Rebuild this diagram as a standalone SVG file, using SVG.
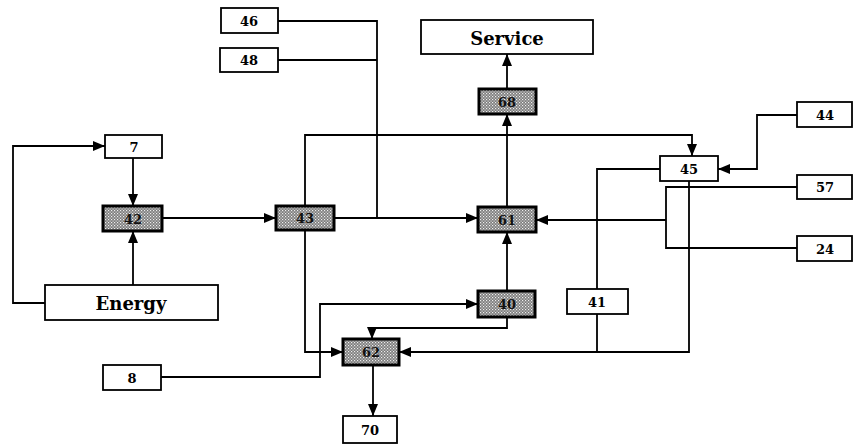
<svg xmlns="http://www.w3.org/2000/svg" width="853" height="445" viewBox="0 0 853 445">
<defs>
<pattern id="stip" width="3" height="3" patternUnits="userSpaceOnUse">
<rect width="3" height="3" fill="#7c7c7c"/>
<rect x="0" y="0" width="1.2" height="1.2" fill="#eeeeee"/>
<rect x="1.5" y="1.5" width="1.2" height="1.2" fill="#dddddd"/>
</pattern>
<marker id="ah" viewBox="0 0 12 10" refX="12" refY="5" markerWidth="12" markerHeight="10" markerUnits="userSpaceOnUse" orient="auto">
<path d="M0,0 L12,5 L0,10 z" fill="#000"/>
</marker>
</defs>
<style>
.box{fill:#fff;stroke:#000;stroke-width:1.8}
.dark{fill:url(#stip);stroke:#000;stroke-width:3}
.t{font-family:"DejaVu Serif","Liberation Serif",serif;font-weight:bold;font-size:13px;text-anchor:middle;dominant-baseline:central;fill:#000}
.big{font-size:18px}
.dt{fill:#111}
.c{fill:none;stroke:#000;stroke-width:1.8}
.a{marker-end:url(#ah)}
</style>
<rect width="853" height="445" fill="#fff"/>
<g id="connectors">
<path class="c a" d="M45,303 H13 V146 H105"/>
<path class="c a" d="M133,158 V206"/>
<path class="c a" d="M133,285 V231"/>
<path class="c a" d="M162,218 H276"/>
<path class="c a" d="M334,218 H478"/>
<path class="c" d="M278,21 H377 V218"/>
<path class="c" d="M278,60 H377"/>
<path class="c a" d="M305,206 V135 H692 V156"/>
<path class="c a" d="M305,230 V352 H343"/>
<path class="c a" d="M507,207 V114"/>
<path class="c a" d="M507,89 V54"/>
<path class="c a" d="M507,291 V232"/>
<path class="c a" d="M797,115 H757 V169 H718"/>
<path class="c" d="M797,187 H666 V248 H797"/>
<path class="c a" d="M666,220 H536"/>
<path class="c" d="M660,169 H597 V352"/>
<path class="c a" d="M689,181 V352 H399"/>
<path class="c a" d="M507,317 V328 H372 V339"/>
<path class="c a" d="M161,377 H320 V304 H478"/>
<path class="c a" d="M373,365 V416"/>
</g>
<g id="n7"><rect class="box" x="105" y="135" width="57" height="23"/><text class="t" x="134" y="147">7</text></g>
<g id="n42"><rect class="dark" x="103" y="206" width="59" height="25"/><text class="t dt" x="133" y="219">42</text></g>
<g id="nEnergy"><rect class="box" x="45" y="285" width="173" height="35"/><text class="t big" x="131" y="303">Energy</text></g>
<g id="n46"><rect class="box" x="221" y="8" width="57" height="25"/><text class="t" x="249" y="21">46</text></g>
<g id="n48"><rect class="box" x="220" y="48" width="58" height="24"/><text class="t" x="249" y="60">48</text></g>
<g id="n43"><rect class="dark" x="276" y="206" width="58" height="24"/><text class="t dt" x="305" y="218">43</text></g>
<g id="nService"><rect class="box" x="421" y="20" width="172" height="34"/><text class="t big" x="507" y="38">Service</text></g>
<g id="n68"><rect class="dark" x="479" y="89" width="57" height="25"/><text class="t dt" x="507" y="102">68</text></g>
<g id="n61"><rect class="dark" x="478" y="207" width="58" height="25"/><text class="t dt" x="507" y="220">61</text></g>
<g id="n40"><rect class="dark" x="478" y="291" width="57" height="26"/><text class="t dt" x="507" y="304">40</text></g>
<g id="n62"><rect class="dark" x="343" y="339" width="56" height="26"/><text class="t dt" x="371" y="352">62</text></g>
<g id="n41"><rect class="box" x="567" y="289" width="61" height="25"/><text class="t" x="597" y="302">41</text></g>
<g id="n45"><rect class="box" x="660" y="156" width="58" height="25"/><text class="t" x="689" y="169">45</text></g>
<g id="n44"><rect class="box" x="797" y="102" width="55" height="25"/><text class="t" x="825" y="115">44</text></g>
<g id="n57"><rect class="box" x="797" y="175" width="55" height="24"/><text class="t" x="825" y="187">57</text></g>
<g id="n24"><rect class="box" x="797" y="236" width="55" height="25"/><text class="t" x="825" y="249">24</text></g>
<g id="n8"><rect class="box" x="103" y="365" width="58" height="25"/><text class="t" x="132" y="378">8</text></g>
<g id="n70"><rect class="box" x="343" y="416" width="54" height="27"/><text class="t" x="370" y="430">70</text></g>
</svg>
